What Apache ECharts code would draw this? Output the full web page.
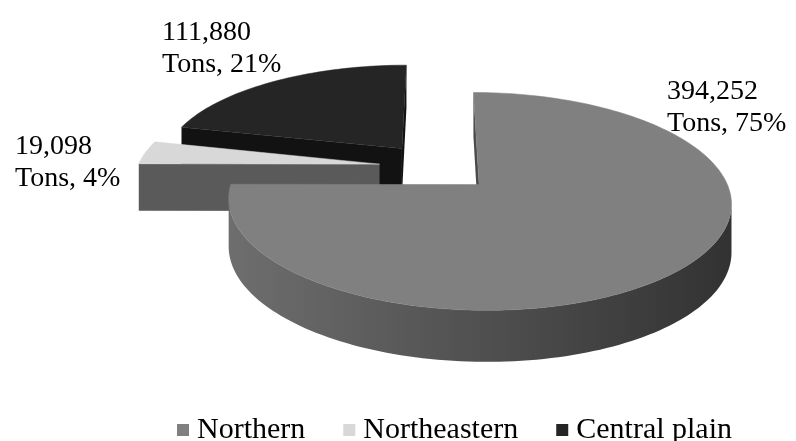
<!DOCTYPE html>
<html>
<head>
<meta charset="utf-8">
<script src="https://cdn.jsdelivr.net/npm/echarts@6/dist/echarts.min.js"></script>
<style>
  html, body { margin: 0; padding: 0; background: #ffffff; }
  #chart { width: 796px; height: 441px; }
</style>
</head>
<body>
<div id="chart"></div>
<script>
// Production by region, in tons
const regions = ['Northern', 'Northeastern', 'Central plain'];
const tons = [394252, 19098, 111880];

// Face colours per region: top face, outer wall (left / right end of the shading), cut faces
const topColors = ['#808080', '#d8d8d8', '#252525'];
const wallLeft = ['#6e6e6e', '#5a5a5a', '#131313'];
const wallRight = ['#323232', '#5a5a5a', '#131313'];
const cutColors = ['#4a4a4a', '#5a5a5a', '#121212'];

// Tilted disc: centre, radii, perspective strength, thickness, explosion (fraction of radius)
const disc = { cx: 437, cy: 167, rx: 242, ry: 101, persp: 0.15, depth: 47, explode: 0.24 };

// Top-left corner of each two-line value label
const labelAnchor = [[667, 76], [15, 131], [162, 17]];

const total = tons.reduce((a, b) => a + b, 0);
const sliceAngles = [];
(function () {
  let acc = 0;
  tons.forEach(v => {
    const a0 = acc / total * Math.PI * 2;
    acc += v;
    sliceAngles.push([a0, acc / total * Math.PI * 2]);
  });
})();

// (u, v): position on the disc plane, u to the right, v away from the viewer; radius 1
function proj(u, v, lower) {
  const d = 1 + disc.persp * v;
  const x = disc.cx + disc.rx * u / d;
  let y = disc.cy - disc.ry * v / d;
  if (lower) y += disc.depth / (1 + 0.5 * disc.persp * v);
  return [x, y];
}

function signedArea(pts) {
  let s = 0;
  for (let k = 0; k < pts.length; k++) {
    const p = pts[k], q = pts[(k + 1) % pts.length];
    s += p[0] * q[1] - q[0] * p[1];
  }
  return s / 2;
}
function fmt(n) {
  return String(n).replace(/\B(?=(\d{3})+(?!\d))/g, ',');
}

function buildSlice(i, value) {
  const [a0, a1] = sliceAngles[i];
  const mid = (a0 + a1) / 2;
  const ou = disc.explode * Math.sin(mid);
  const ov = disc.explode * Math.cos(mid);
  const rim = a => [ou + Math.sin(a), ov + Math.cos(a)];
  const steps = Math.max(3, Math.ceil((a1 - a0) / (Math.PI / 120)));
  const angleAt = s => a0 + (a1 - a0) * s / steps;

  const walls = [];

  // outer curved wall: keep the runs of segments that face the viewer, merged into one band each
  let run = null;
  const closeRun = () => {
    if (!run) return;
    const upper = run.map(a => { const p = rim(a); return proj(p[0], p[1]); });
    const lower = run.slice().reverse().map(a => { const p = rim(a); return proj(p[0], p[1], true); });
    let dsum = 0;
    run.forEach(a => { dsum += ov + Math.cos(a); });
    walls.push({
      pts: upper.concat(lower),
      depth: dsum / run.length,
      color: {
        type: 'linear', x: 0, y: 0, x2: 1, y2: 0,
        colorStops: [{ offset: 0, color: wallLeft[i] }, { offset: 1, color: wallRight[i] }]
      }
    });
    run = null;
  };
  for (let s = 0; s < steps; s++) {
    const ta = angleAt(s), tb = angleAt(s + 1);
    const pa = rim(ta), pb = rim(tb);
    const quad = [proj(pa[0], pa[1]), proj(pb[0], pb[1]), proj(pb[0], pb[1], true), proj(pa[0], pa[1], true)];
    if (signedArea(quad) < 0) {
      if (!run) run = [ta];
      run.push(tb);
    } else {
      closeRun();
    }
  }
  closeRun();

  // radial cut faces
  const r0 = rim(a0), r1 = rim(a1);
  const cuts = [
    { pts: [proj(ou, ov), proj(r0[0], r0[1]), proj(r0[0], r0[1], true), proj(ou, ov, true)], depth: ov + Math.cos(a0) / 2 },
    { pts: [proj(r1[0], r1[1]), proj(ou, ov), proj(ou, ov, true), proj(r1[0], r1[1], true)], depth: ov + Math.cos(a1) / 2 }
  ];
  cuts.forEach(c => {
    if (signedArea(c.pts) < 0) walls.push({ pts: c.pts, depth: c.depth, color: cutColors[i] });
  });

  const children = [];
  walls
    .sort((p, q) => q.depth - p.depth)
    .forEach(w => children.push({
      type: 'polygon',
      shape: { points: w.pts },
      style: { fill: w.color }
    }));

  // top face
  const top = [proj(ou, ov)];
  for (let s = 0; s <= steps; s++) {
    const p = rim(angleAt(s));
    top.push(proj(p[0], p[1]));
  }
  children.push({
    type: 'polygon',
    shape: { points: top },
    style: { fill: topColors[i], stroke: topColors[i], lineWidth: 0.5 }
  });

  // value label
  const pct = Math.round(value / total * 100);
  children.push({
    type: 'text',
    x: labelAnchor[i][0],
    y: labelAnchor[i][1],
    style: {
      text: fmt(value) + '\nTons, ' + pct + '%',
      fill: '#000000',
      fontFamily: '"Liberation Serif", "Times New Roman", serif',
      fontSize: 28,
      lineHeight: 32,
      align: 'left',
      verticalAlign: 'top'
    }
  });
  return children;
}

const chart = echarts.init(document.getElementById('chart'), null, { renderer: 'canvas' });

// drawn back to front: Central plain, Northeastern, Northern
const drawOrder = [2, 1, 0];

chart.setOption({
  animation: false,
  backgroundColor: '#ffffff',
  legend: {
    data: regions.slice(),
    left: 172,
    top: 410,
    icon: 'rect',
    itemWidth: 12,
    itemHeight: 12,
    itemGap: 38,
    selectedMode: false,
    textStyle: {
      fontFamily: '"Liberation Serif", "Times New Roman", serif',
      fontSize: 30,
      lineHeight: 30,
      color: '#000000',
      padding: [0, 0, 0, 3]
    }
  },
  series: drawOrder.map(i => ({
    type: 'custom',
    name: regions[i],
    coordinateSystem: 'none',
    silent: true,
    itemStyle: { color: topColors[i] },
    data: [tons[i]],
    renderItem: function (params, api) {
      return { type: 'group', children: buildSlice(i, api.value(0)) };
    }
  }))
});
</script>
</body>
</html>
